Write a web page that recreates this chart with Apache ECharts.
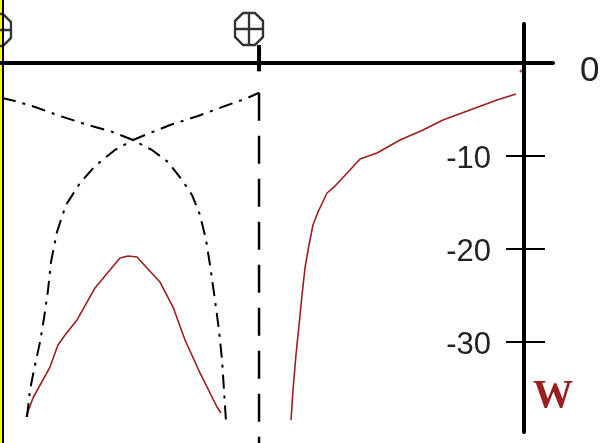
<!DOCTYPE html>
<html>
<head>
<meta charset="utf-8">
<style>
  html, body { margin: 0; padding: 0; background: #fff; }
  #chart { width: 609px; height: 443px; }
</style>
<script src="https://cdn.jsdelivr.net/npm/echarts@6/dist/echarts.min.js"></script>
</head>
<body>
<div id="chart"></div>
<script>
// 能量曲线数据 (x: 距离, y: W)
var redLeft = [
  [-53.55, -38.06], [-52.80, -36.02], [-50.97, -32.69], [-50.11, -30.32],
  [-49.35, -29.25], [-48.06, -27.63], [-46.13, -24.19], [-44.52, -22.26],
  [-43.44, -20.97], [-42.58, -20.75], [-41.61, -20.86], [-40.54, -22.04],
  [-39.14, -23.55], [-37.74, -26.24], [-36.45, -29.78], [-34.84, -33.33],
  [-33.01, -36.99], [-32.58, -37.63]
];
var redRight = [
  [-25.05, -38.39], [-24.84, -35.16], [-24.52, -31.40], [-24.19, -28.17],
  [-23.87, -24.95], [-23.55, -22.04], [-23.12, -19.57], [-22.69, -17.42],
  [-22.15, -16.02], [-21.18, -13.98], [-20.32, -13.23], [-18.71, -11.51],
  [-17.63, -10.32], [-15.81, -9.68], [-13.33, -8.28], [-10.86, -7.20],
  [-8.71, -6.13], [-5.81, -5.05], [-2.90, -3.98], [-0.86, -3.33]
];
var redDot = [[-0.32, -0.86]];
// 点划线 A: 从左上向下
var curveA = [
  [-56.13, -3.76], [-54.73, -4.09], [-52.58, -4.73], [-49.89, -5.70],
  [-46.88, -6.67], [-44.52, -7.31], [-42.04, -8.28], [-40.00, -9.35],
  [-38.28, -10.65], [-36.77, -12.58], [-35.70, -14.19], [-34.84, -16.34],
  [-34.19, -19.03], [-33.76, -21.72], [-33.23, -25.48], [-32.80, -28.71],
  [-32.47, -31.94], [-32.26, -35.16], [-32.04, -38.60]
];
// 点划线 B: 从左下向上
var curveB = [
  [-53.44, -38.06], [-53.12, -35.16], [-52.69, -33.01], [-52.04, -30.00],
  [-51.61, -27.42], [-51.18, -24.41], [-50.86, -21.40], [-50.22, -18.17],
  [-49.25, -15.27], [-47.74, -12.90], [-46.13, -11.08], [-43.98, -9.35],
  [-42.04, -8.28], [-40.22, -7.53], [-38.06, -6.67], [-35.05, -5.70],
  [-32.15, -4.62], [-30.00, -3.87], [-28.49, -3.20]
];
var dashedVertical = [[-28.49, -3.20], [-28.49, -40.90]];
var ionStem = [[-28.49, 1.94], [-28.49, -0.90]];
var ions = [[-29.57, 3.66], [-56.67, 3.55]];
var tickValues = [-30, -20, -10];

var darkRed = "#9a1f1f";
var labelFont = "Liberation Sans Narrow, Liberation Sans, sans-serif";
var ionPath = "path://M8,0 L20,0 L28,8 L28,24 L20,32 L8,32 L0,24 L0,8 Z M14,0 L14,32 M0,16 L28,16";

var chart = echarts.init(document.getElementById("chart"));
chart.setOption({
  animation: false,
  backgroundColor: "#fff",
  grid: { left: 0, right: 56, top: 24, bottom: 11 },
  xAxis: {
    type: "value",
    min: -56.344,
    max: 3.118,
    axisLine: { onZero: true, lineStyle: { color: "#000", width: 4 } },
    axisTick: { show: false },
    axisLabel: { show: false },
    splitLine: { show: false }
  },
  yAxis: [
    {
      type: "value",
      position: "right",
      offset: -29,
      min: -39.677,
      max: 4.194,
      axisLine: { show: true, onZero: false, lineStyle: { color: "#000", width: 4 } },
      axisTick: { inside: true, length: 18, customValues: tickValues, lineStyle: { color: "#000", width: 2 } },
      axisLabel: {
        inside: true,
        margin: 33,
        customValues: tickValues,
        formatter: function (v) { return "{t|" + v + "}"; },
        rich: {
          t: { color: "#222", fontSize: 31, fontFamily: labelFont, padding: [6, 0, 0, 0] }
        }
      },
      splitLine: { show: false }
    },
    {
      type: "value",
      position: "right",
      offset: -29,
      min: -39.677,
      max: 4.194,
      axisLine: { show: false, onZero: false },
      axisTick: { length: 21, customValues: tickValues, lineStyle: { color: "#000", width: 2 } },
      axisLabel: { show: false },
      splitLine: { show: false }
    },
    {
      type: "value",
      position: "right",
      offset: 0,
      min: -39.677,
      max: 4.194,
      name: "W",
      nameLocation: "start",
      nameGap: -35,
      nameTextStyle: {
        color: darkRed,
        fontSize: 40,
        fontWeight: "bold",
        fontFamily: "Liberation Serif, DejaVu Serif, serif",
        align: "center",
        verticalAlign: "middle"
      },
      axisLine: { show: false, onZero: false },
      axisTick: { show: false },
      axisLabel: {
        margin: 27,
        customValues: [0],
        formatter: function (v) { return "{z|" + v + "}"; },
        rich: {
          z: { color: "#222", fontSize: 35, fontFamily: labelFont, padding: [16, 0, 0, 0] }
        }
      },
      splitLine: { show: false }
    }
  ],
  graphic: [
    { type: "rect", left: 0, top: 0, shape: { width: 2, height: 443 }, style: { fill: "#ffff00" } },
    { type: "rect", left: 2, top: 0, shape: { width: 2, height: 443 }, style: { fill: "#000" } }
  ],
  series: [
    {
      name: "W左",
      type: "line",
      data: redLeft,
      symbol: "none",
      lineStyle: { color: darkRed, width: 1.6 }
    },
    {
      name: "W右",
      type: "line",
      data: redRight,
      symbol: "none",
      lineStyle: { color: darkRed, width: 1.6 }
    },
    {
      name: "W点",
      type: "scatter",
      data: redDot,
      symbolSize: 3,
      itemStyle: { color: darkRed }
    },
    {
      name: "A",
      type: "line",
      data: curveA,
      symbol: "none",
      clip: false,
      lineStyle: { color: "#000", width: 2, type: [14, 7, 3, 7] }
    },
    {
      name: "B",
      type: "line",
      data: curveB,
      symbol: "none",
      clip: false,
      lineStyle: { color: "#000", width: 2, type: [14, 7, 3, 7] }
    },
    {
      name: "竖线",
      type: "line",
      data: dashedVertical,
      symbol: "none",
      clip: false,
      lineStyle: { color: "#000", width: 2.5, type: [28, 15] }
    },
    {
      name: "离子柄",
      type: "line",
      data: ionStem,
      symbol: "none",
      clip: false,
      lineStyle: { color: "#000", width: 4 }
    },
    {
      name: "离子",
      type: "scatter",
      data: ions,
      clip: false,
      symbol: ionPath,
      symbolSize: [28, 32],
      itemStyle: { color: "rgba(0,0,0,0)", borderColor: "#000", borderWidth: 2.5 }
    }
  ]
});
</script>
</body>
</html>
